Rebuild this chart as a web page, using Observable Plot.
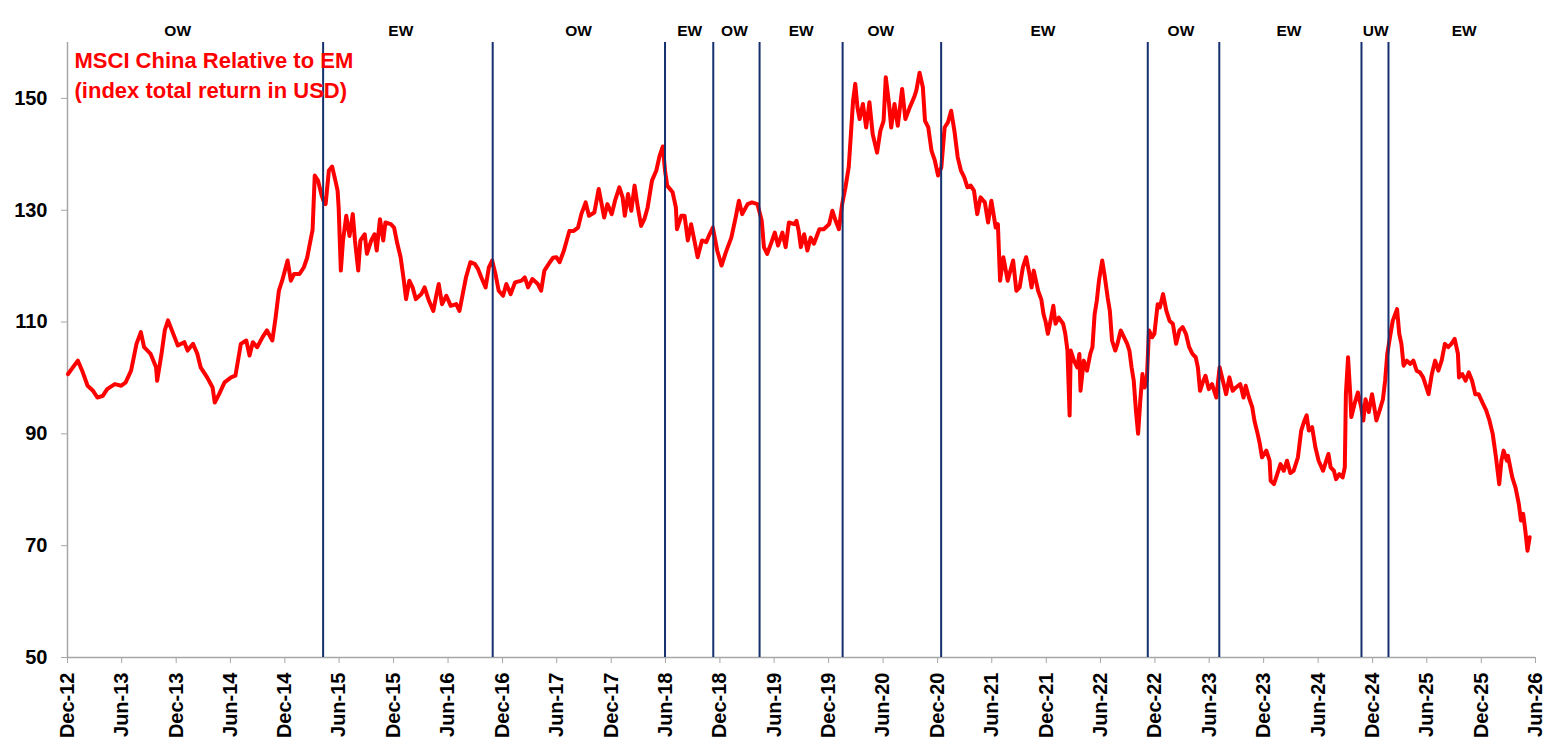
<!DOCTYPE html>
<html><head><meta charset="utf-8">
<script src="https://cdn.jsdelivr.net/npm/d3@7"></script>
<script src="https://cdn.jsdelivr.net/npm/@observablehq/plot@0.6"></script>
<style>
html,body{margin:0;padding:0;background:#fff;}
#chart{width:1557px;height:754px;overflow:hidden;}
</style></head><body><div id="chart"></div>
<script>
// Decimal-year positions of the readings, and the relative index values
const years = [
2012.92,2013.01,2013.05,2013.10,2013.15,2013.19,2013.24,2013.28,2013.35,2013.41,2013.45,2013.50,2013.55,2013.59,2013.62,2013.68,2013.73,2013.74,2013.78,2013.81,2013.84,2013.90,2013.93,2013.99,
2014.02,2014.07,2014.11,2014.14,2014.20,2014.25,2014.27,2014.31,2014.36,2014.42,2014.46,2014.51,2014.56,2014.59,2014.62,2014.66,2014.71,2014.75,2014.80,2014.83,2014.86,2014.89,2014.94,2014.97,
2015.00,2015.05,2015.09,2015.12,2015.15,2015.17,2015.19,2015.22,2015.25,2015.27,2015.29,2015.32,2015.35,2015.38,2015.40,2015.41,2015.43,2015.45,2015.48,2015.51,2015.54,2015.56,2015.59,2015.61,2015.65,2015.67,2015.71,2015.74,2015.76,2015.79,2015.82,2015.84,2015.89,2015.92,2015.95,2015.98,
2016.01,2016.03,2016.06,2016.09,2016.12,2016.17,2016.20,2016.24,2016.28,2016.31,2016.33,2016.36,2016.40,2016.44,2016.49,2016.52,2016.55,2016.58,2016.62,2016.66,2016.69,2016.72,2016.76,2016.79,2016.82,2016.85,2016.88,2016.92,2016.95,2016.99,
2017.03,2017.09,2017.12,2017.15,2017.19,2017.24,2017.27,2017.30,2017.35,2017.38,2017.41,2017.44,2017.48,2017.53,2017.57,2017.61,2017.64,2017.68,2017.71,2017.76,2017.80,2017.85,2017.88,2017.92,2017.95,2017.99,
2018.02,2018.04,2018.07,2018.10,2018.13,2018.16,2018.19,2018.22,2018.25,2018.29,2018.33,2018.36,2018.39,2018.41,2018.43,2018.48,2018.51,2018.52,2018.56,2018.59,2018.62,2018.65,2018.68,2018.71,2018.75,2018.79,2018.82,2018.85,2018.89,2018.93,2018.97,
2019.02,2019.06,2019.09,2019.12,2019.17,2019.21,2019.26,2019.30,2019.32,2019.35,2019.39,2019.42,2019.45,2019.49,2019.52,2019.55,2019.60,2019.62,2019.64,2019.66,2019.69,2019.72,2019.75,2019.78,2019.83,2019.87,2019.92,2019.95,2019.98,
2020.01,2020.04,2020.07,2020.10,2020.12,2020.14,2020.16,2020.18,2020.20,2020.23,2020.26,2020.29,2020.32,2020.36,2020.39,2020.42,2020.44,2020.47,2020.49,2020.52,2020.55,2020.59,2020.62,2020.66,2020.70,2020.72,2020.75,2020.78,2020.80,2020.83,2020.86,2020.89,2020.92,2020.95,2020.98,
2021.01,2021.04,2021.07,2021.10,2021.13,2021.16,2021.19,2021.22,2021.25,2021.28,2021.31,2021.35,2021.38,2021.41,2021.45,2021.47,2021.49,2021.52,2021.56,2021.61,2021.64,2021.67,2021.70,2021.73,2021.76,2021.78,2021.80,2021.84,2021.87,2021.89,2021.91,2021.93,2021.96,2021.98,
2022.00,2022.03,2022.07,2022.09,2022.11,2022.13,2022.14,2022.17,2022.20,2022.22,2022.23,2022.26,2022.29,2022.32,2022.34,2022.36,2022.38,2022.40,2022.43,2022.45,2022.48,2022.50,2022.52,2022.55,2022.57,2022.60,2022.63,2022.66,2022.68,2022.70,2022.72,2022.74,2022.76,2022.78,2022.80,2022.82,2022.84,2022.86,2022.89,2022.91,2022.94,2022.96,2022.99,
2023.02,2023.05,2023.08,2023.11,2023.14,2023.17,2023.20,2023.23,2023.26,2023.29,2023.31,2023.33,2023.36,2023.38,2023.41,2023.44,2023.48,2023.51,2023.54,2023.57,2023.60,2023.63,2023.66,2023.70,2023.73,2023.75,2023.78,2023.81,2023.83,2023.86,2023.88,2023.90,2023.94,2023.97,2023.98,
2024.01,2024.04,2024.07,2024.10,2024.13,2024.16,2024.19,2024.23,2024.26,2024.29,2024.31,2024.33,2024.36,2024.39,2024.42,2024.46,2024.49,2024.51,2024.53,2024.56,2024.58,2024.61,2024.64,2024.66,2024.67,2024.69,2024.71,2024.72,2024.75,2024.78,2024.81,2024.83,2024.85,2024.88,2024.91,2024.93,2024.95,2024.98,
2025.01,2025.03,2025.05,2025.08,2025.10,2025.14,2025.16,2025.18,2025.20,2025.23,2025.26,2025.29,2025.32,2025.35,2025.38,2025.40,2025.43,2025.46,2025.49,2025.52,2025.55,2025.58,2025.61,2025.64,2025.67,2025.70,2025.71,2025.74,2025.77,2025.80,2025.83,2025.86,2025.89,2025.93,2025.96,2025.99,
2026.02,2026.05,2026.08,2026.10,2026.12,2026.15,2026.16,2026.20,2026.23,2026.26,2026.28,2026.30,2026.32,2026.34,2026.36
];
const values = [
100.7,103.1,101.3,98.6,97.7,96.5,96.8,98.0,98.9,98.6,99.2,101.3,106.1,108.2,105.5,104.3,101.9,99.5,104.3,108.5,110.3,107.3,105.8,106.4,
104.9,106.1,104.3,101.9,100.1,98.3,95.6,97.1,99.2,100.1,100.4,106.1,106.7,104.0,106.4,105.5,107.3,108.5,106.7,110.8,115.6,117.4,121.0,117.4,
118.6,118.6,119.8,121.5,124.5,126.5,136.2,135.3,132.9,131.7,131.1,137.1,137.8,135.3,133.5,130.5,119.2,124.6,129.0,125.4,129.3,124.6,119.2,124.6,125.7,122.2,124.6,125.7,122.8,128.4,124.6,127.8,127.5,126.9,124.0,121.6,
117.4,114.1,117.4,116.2,114.1,115.0,116.2,113.8,112.0,115.0,116.8,113.2,114.7,112.9,113.2,112.0,115.0,118.0,120.7,120.4,119.5,118.0,116.2,119.8,121.0,118.6,115.6,114.7,116.8,115.0,
117.1,117.4,118.0,116.2,117.7,116.8,115.6,119.2,120.7,121.5,121.6,120.7,122.8,126.3,126.3,126.9,129.3,131.4,129.0,129.6,133.8,128.7,131.1,129.3,131.7,134.1,
132.3,129.0,132.9,129.9,134.4,130.5,127.2,128.4,130.5,135.3,137.1,139.7,141.4,137.1,134.4,133.2,130.5,126.6,129.0,129.0,124.6,127.5,124.6,121.6,124.6,124.3,125.7,126.9,122.8,120.1,122.5,
125.1,128.7,131.7,129.3,131.1,131.4,131.1,128.1,123.4,122.2,124.3,126.0,123.7,126.0,123.4,127.8,127.5,128.1,126.3,123.4,125.7,122.8,125.1,124.0,126.6,126.6,127.5,129.9,128.1,
126.6,131.1,134.1,137.7,143.6,149.6,152.6,148.4,146.3,149.0,144.8,149.3,143.6,140.3,144.2,146.0,153.8,149.0,144.8,149.0,145.1,151.7,146.3,148.4,150.2,151.4,154.6,152.0,146.0,144.8,140.6,138.9,136.2,137.7,144.8,
145.7,147.8,144.2,139.5,137.1,135.9,134.1,134.4,133.5,129.3,132.3,131.4,127.8,131.7,126.9,127.5,117.4,121.6,117.4,121.0,115.6,116.2,119.8,121.6,118.6,116.2,119.2,115.6,114.0,111.4,110.0,107.9,110.8,112.9,
109.7,110.8,109.7,107.9,104.9,93.3,104.9,103.1,101.9,104.3,97.7,103.1,101.3,104.3,105.5,111.4,113.8,117.4,121.0,118.6,114.4,112.0,106.7,104.9,106.1,108.5,107.3,106.1,104.9,101.9,99.5,94.2,90.0,95.9,100.7,98.3,99.5,108.5,107.3,107.9,113.2,112.6,115.0,
112.0,110.2,109.7,106.1,108.5,109.1,107.9,105.5,104.3,103.7,101.9,97.7,99.5,100.4,98.0,98.9,96.5,101.9,99.5,97.1,100.1,97.7,98.3,98.9,96.5,98.6,96.5,94.8,92.4,90.0,88.2,85.8,87.0,85.2,81.6,
81.0,82.8,84.6,83.4,85.2,83.0,83.4,85.8,90.6,92.4,93.3,90.6,91.2,87.6,85.2,83.4,85.2,86.4,84.0,83.4,81.9,82.8,82.2,84.0,97.1,103.7,97.1,93.0,95.4,97.4,94.8,92.4,96.2,93.9,97.1,94.8,92.4,94.2,
96.2,99.5,104.3,107.9,110.2,112.3,107.9,106.1,102.2,103.1,102.5,103.1,101.3,101.0,100.1,98.9,97.1,100.7,103.1,101.3,103.1,106.1,105.5,106.1,107.0,104.3,100.1,100.7,99.5,101.0,99.5,97.1,97.1,95.4,94.2,92.4,
90.0,85.8,81.0,85.2,87.0,85.2,86.1,82.2,80.4,77.5,74.5,75.7,72.7,69.1,71.5
];
// Weighting changes (vertical lines) and the stance labels shown above the chart
const switchYears = [2015.267,2016.825,2018.41,2018.854,2019.28,2020.044,2020.948,2022.849,2023.507,2024.813,2025.061];
const stanceYears = [2013.929,2015.982,2017.614,2018.637,2019.049,2019.663,2020.394,2021.885,2023.154,2024.148,2024.944,2025.757];
const stanceLabels = ["OW","EW","OW","EW","OW","EW","OW","EW","OW","EW","UW","EW"];
const tickLabels = ["Dec-12","Jun-13","Dec-13","Jun-14","Dec-14","Jun-15","Dec-15","Jun-16","Dec-16","Jun-17","Dec-17","Jun-18","Dec-18","Jun-19","Dec-19","Jun-20","Dec-20","Jun-21","Dec-21","Jun-22","Dec-22","Jun-23","Dec-23","Jun-24","Dec-24","Jun-25","Dec-25","Jun-26"];
const yTicks = [50,70,90,110,130,150];
const titleLines = ["MSCI China Relative to EM","(index total return in USD)"];

function yearToDate(y){
  const yr = Math.floor(y);
  const s = Date.UTC(yr,0,1), e = Date.UTC(yr+1,0,1);
  return new Date(s + (y-yr)*(e-s));
}
const parseTick = d3.utcParse("%b-%y");
const tickDates = tickLabels.map(parseTick);
const data = years.map((y,i)=>({date: yearToDate(y), value: values[i]}));
const switchDates = switchYears.map(yearToDate);
const stances = stanceYears.map((y,i)=>({date: yearToDate(y), label: stanceLabels[i]}));
const fmt = d3.utcFormat("%b-%y");
const axisGrey = "#A6A6A6";

const chart = Plot.plot({
  width: 1557, height: 754,
  marginLeft: 67, marginRight: 22, marginTop: 42, marginBottom: 97,
  style: {fontFamily: "Arial, 'Liberation Sans', sans-serif", background: "#fff", color: "#000"},
  x: {type: "utc", domain: [tickDates[0], tickDates[tickDates.length-1]]},
  y: {domain: [50,160]},
  marks: [
    Plot.ruleY([50], {stroke: axisGrey, strokeWidth: 1.5}),
    Plot.ruleX([tickDates[0]], {stroke: axisGrey, strokeWidth: 1.5}),
    Plot.axisY({ticks: yTicks, tickSize: 6, tickPadding: 14, fontSize: 20, fontWeight: "bold", stroke: axisGrey, fill: "#000", label: null}),
    Plot.axisX({ticks: tickDates, tickFormat: fmt, tickRotate: -90, tickSize: 6, tickPadding: 9, fontSize: 20, fontWeight: "bold", stroke: axisGrey, fill: "#000", label: null}),
    Plot.line(data, {x: "date", y: "value", stroke: "#FF0000", strokeWidth: 4, strokeLinejoin: "round", strokeLinecap: "round"}),
    Plot.ruleX(switchDates, {stroke: "#14306E", strokeWidth: 2}),
    Plot.text(stances, {x: "date", text: "label", frameAnchor: "top", dy: -18, fontSize: 15.5, fontWeight: "bold", fill: "#000"}),
    Plot.text([titleLines.join("\n")], {frameAnchor: "top-left", dx: 7, dy: 4, lineAnchor: "top", textAnchor: "start", fontSize: 22, fontWeight: "bold", fill: "#FF0000", lineHeight: 1.364})
  ]
});
document.getElementById("chart").appendChild(chart);
</script>
</body></html>
